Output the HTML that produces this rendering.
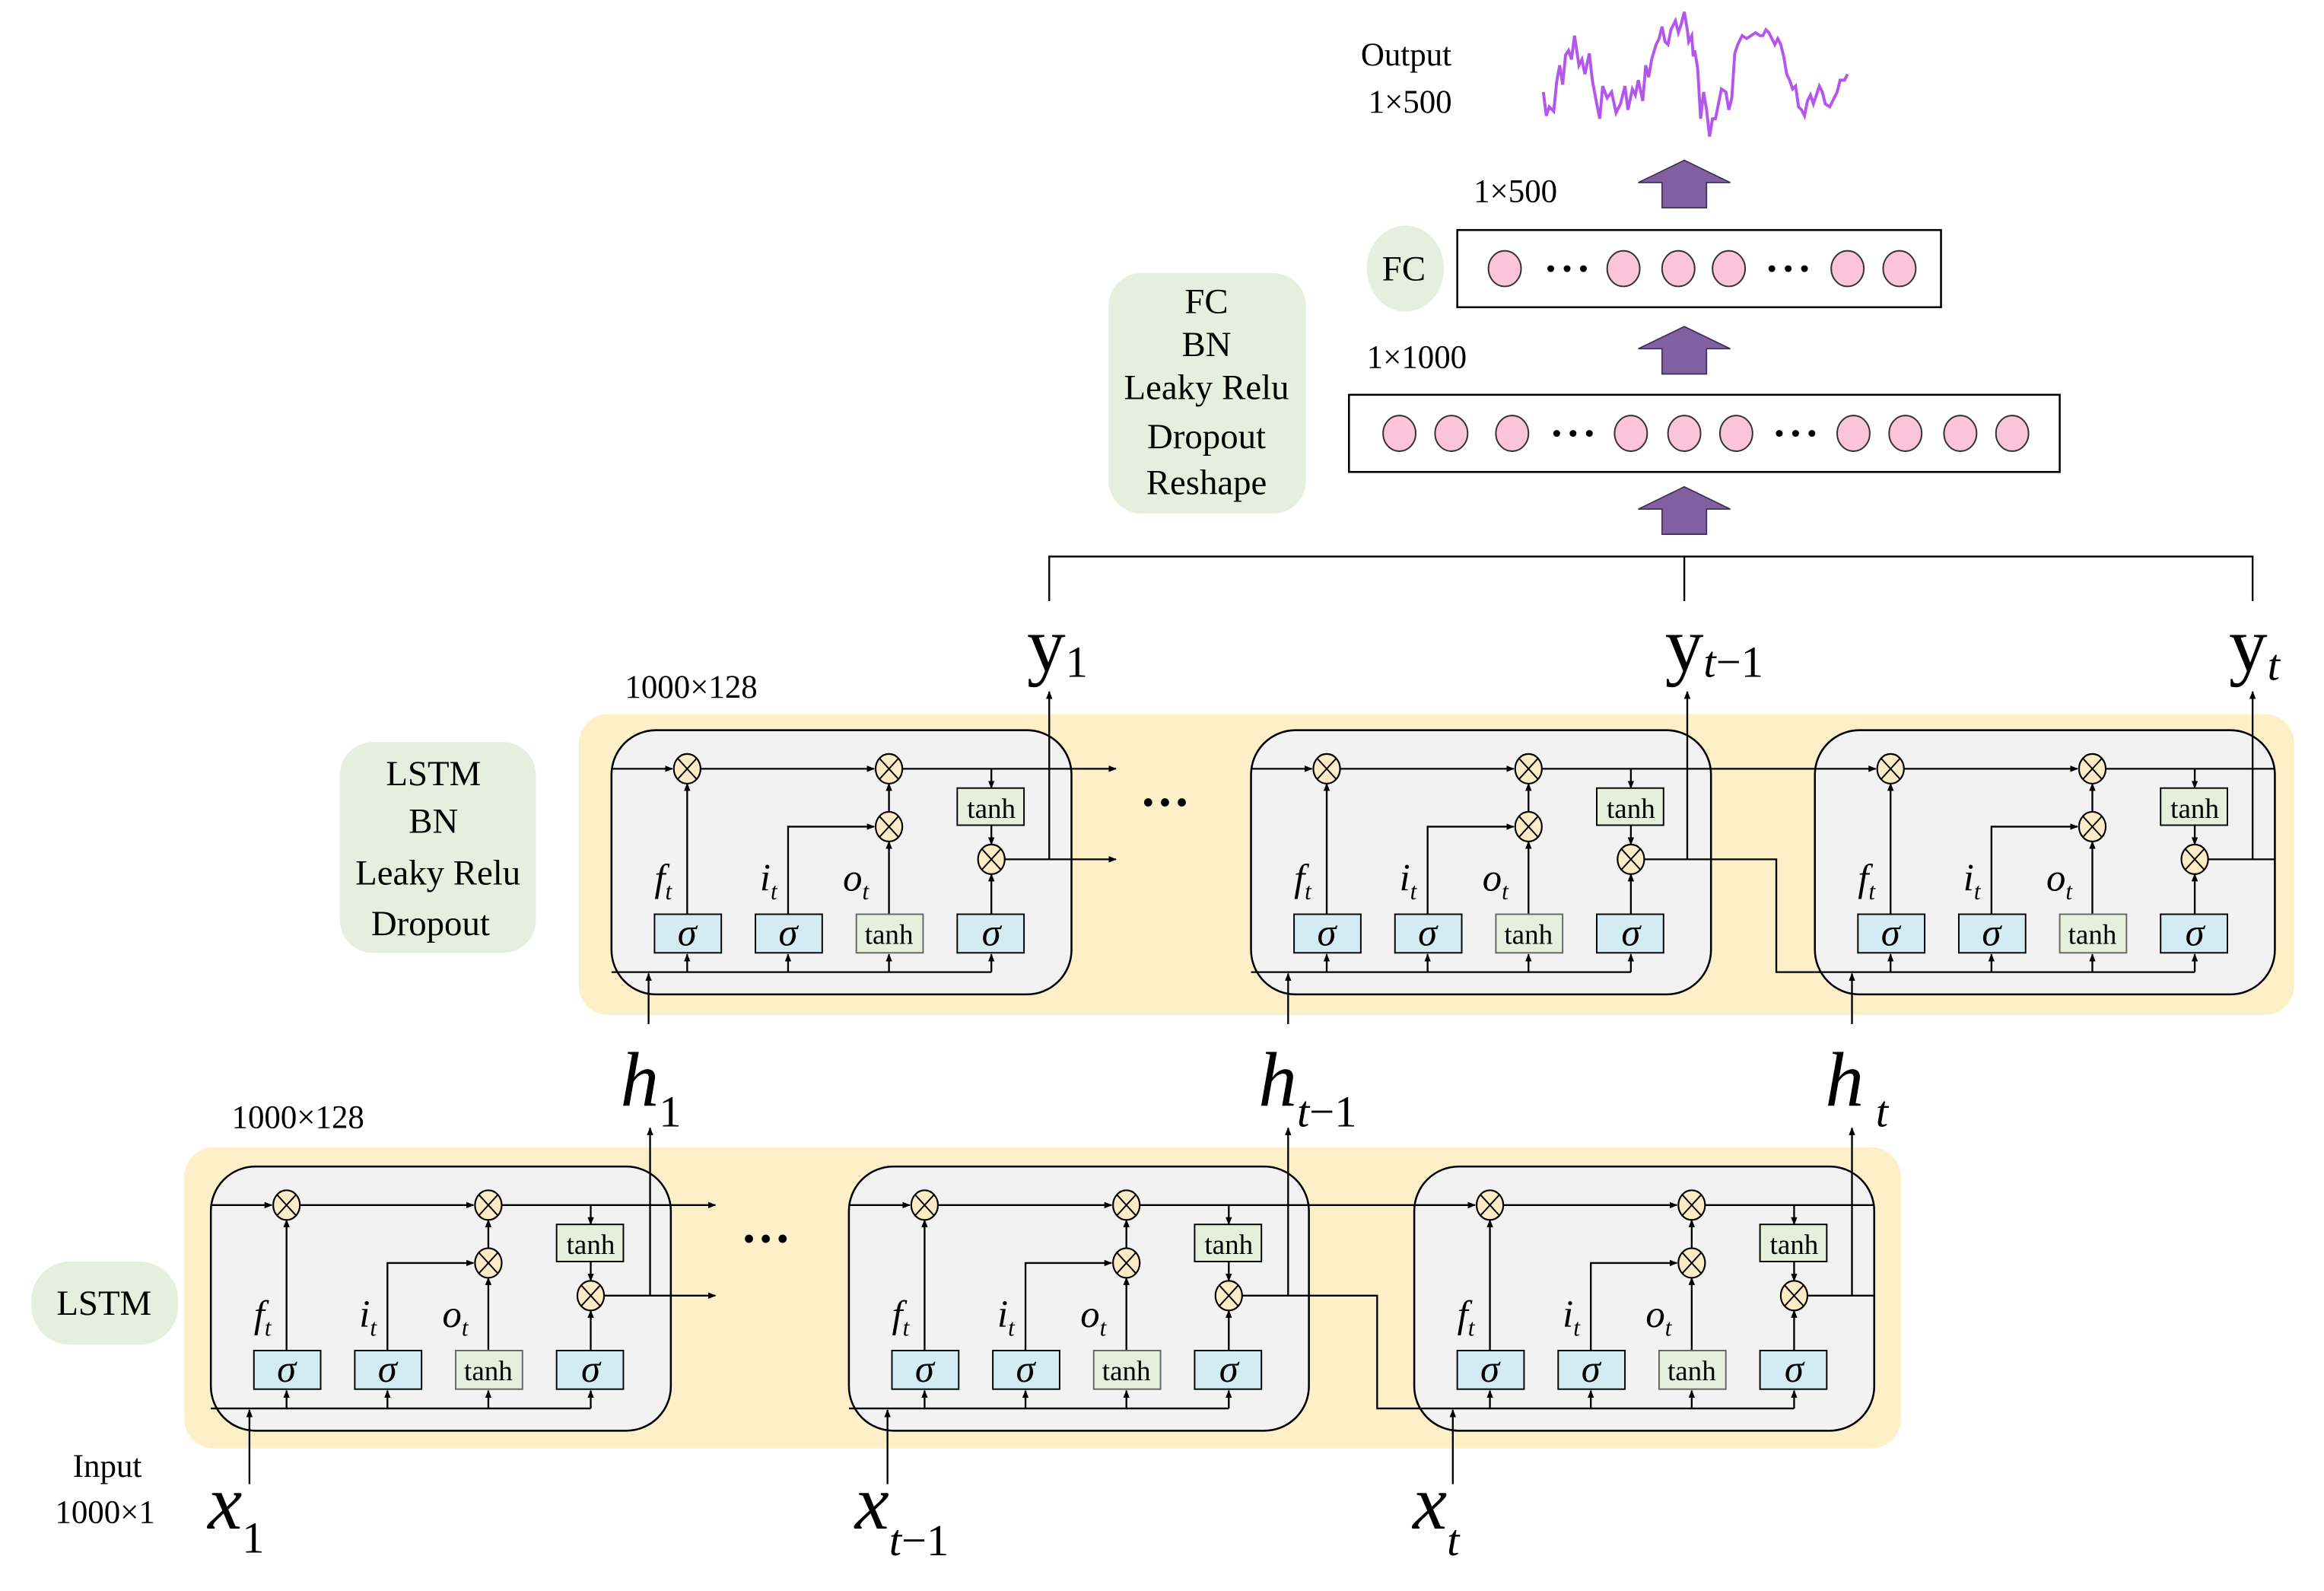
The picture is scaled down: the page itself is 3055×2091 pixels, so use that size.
<!DOCTYPE html>
<html><head><meta charset="utf-8"><style>
html,body{margin:0;padding:0;background:#fff}
svg{display:block}
text{font-family:"Liberation Serif",serif;fill:#000}
</style></head><body>
<svg width="3055" height="2091" viewBox="0 0 1566 1072" xmlns="http://www.w3.org/2000/svg">
<defs>
<marker id="a" viewBox="0 0 10 10" refX="9" refY="5" markerWidth="4.5" markerHeight="4.5" orient="auto"><path d="M0,1 L10,5 L0,9 z" fill="#000"/></marker>
<g id="cell">
<rect x="0" y="0" width="310" height="178" rx="30" fill="#f2f2f2" stroke="#000" stroke-width="1.3"/>
<g stroke="#000" stroke-width="1.2" fill="none">
<line x1="0" y1="26" x2="41" y2="26" marker-end="url(#a)"/>
<line x1="60" y1="26" x2="177" y2="26" marker-end="url(#a)"/>
<line x1="196" y1="26" x2="310" y2="26"/>
<line x1="256" y1="26" x2="256" y2="39" marker-end="url(#a)"/>
<line x1="256" y1="64" x2="256" y2="77" marker-end="url(#a)"/>
<line x1="51" y1="124" x2="51" y2="36" marker-end="url(#a)"/>
<polyline points="119,124 119,65 177,65" marker-end="url(#a)"/>
<line x1="187" y1="124" x2="187" y2="75" marker-end="url(#a)"/>
<line x1="187" y1="56" x2="187" y2="36" marker-end="url(#a)"/>
<line x1="256" y1="124" x2="256" y2="97" marker-end="url(#a)"/>
<line x1="265" y1="87" x2="310" y2="87"/>
<line x1="0" y1="163" x2="256" y2="163"/>
<line x1="51" y1="163" x2="51" y2="151" marker-end="url(#a)"/>
<line x1="119" y1="163" x2="119" y2="151" marker-end="url(#a)"/>
<line x1="187" y1="163" x2="187" y2="151" marker-end="url(#a)"/>
<line x1="256" y1="163" x2="256" y2="151" marker-end="url(#a)"/>
</g>
<rect x="233" y="39" width="45" height="25" fill="#e6efdc" stroke="#000"/>
<rect x="29" y="124" width="45" height="26" fill="#d3ecf4" stroke="#000"/>
<rect x="97" y="124" width="45" height="26" fill="#d3ecf4" stroke="#000"/>
<rect x="165" y="124" width="45" height="26" fill="#e6efdc" stroke="#666"/>
<rect x="233" y="124" width="45" height="26" fill="#d3ecf4" stroke="#000"/>
<g fill="#fcebc4" stroke="#000" stroke-width="1.1">
<ellipse cx="51" cy="26" rx="9" ry="10"/><ellipse cx="187" cy="26" rx="9" ry="10"/>
<ellipse cx="187" cy="65" rx="9" ry="10"/><ellipse cx="256" cy="87" rx="9" ry="10"/>
</g>
<g stroke="#000" stroke-width="1">
<path d="M44.6,19 L57.4,33 M57.4,19 L44.6,33"/><path d="M180.6,19 L193.4,33 M193.4,19 L180.6,33"/>
<path d="M180.6,58 L193.4,72 M193.4,58 L180.6,72"/><path d="M249.6,80 L262.4,94 M262.4,80 L249.6,94"/>
</g>
</g>
</defs>

<rect x="390" y="481" width="1156" height="203" rx="20" fill="#fdefc8"/>
<rect x="124" y="773" width="1157" height="203" rx="20" fill="#fdefc8"/>

<rect x="747" y="184" width="133" height="162" rx="22" fill="#e6efdd"/>
<ellipse cx="947" cy="181" rx="26" ry="29" fill="#e6efdd"/>
<rect x="229" y="500" width="132" height="142" rx="22" fill="#e6efdd"/>
<rect x="21" y="850" width="99" height="56" rx="26" fill="#e6efdd"/>
<g font-size="24" text-anchor="middle">
<text x="813" y="211">FC</text><text x="813" y="240">BN</text><text x="813" y="269">Leaky Relu</text><text x="813" y="302">Dropout</text><text x="813" y="333">Reshape</text>
<text x="946" y="189">FC</text>
<text x="292" y="529">LSTM</text><text x="292" y="561">BN</text><text x="295" y="596">Leaky Relu</text><text x="290" y="630">Dropout</text>
<text x="70" y="886">LSTM</text>
</g>

<use href="#cell" x="412" y="492"/><use href="#cell" x="843" y="492"/><use href="#cell" x="1223" y="492"/>
<use href="#cell" x="142" y="786"/><use href="#cell" x="572" y="786"/><use href="#cell" x="953" y="786"/>

<g stroke="#000" stroke-width="1.2" fill="none">
<line x1="722" y1="518" x2="752" y2="518" marker-end="url(#a)"/>
<line x1="722" y1="579" x2="752" y2="579" marker-end="url(#a)"/>
<line x1="707" y1="579" x2="707" y2="466" marker-end="url(#a)"/>
<line x1="1153" y1="518" x2="1223" y2="518"/>
<polyline points="1153,579 1197,579 1197,655 1223,655"/>
<line x1="1137" y1="579" x2="1137" y2="466" marker-end="url(#a)"/>
<line x1="1518" y1="579" x2="1518" y2="466" marker-end="url(#a)"/>
<line x1="437" y1="690" x2="437" y2="656" marker-end="url(#a)"/>
<line x1="868" y1="690" x2="868" y2="656" marker-end="url(#a)"/>
<line x1="1248" y1="690" x2="1248" y2="656" marker-end="url(#a)"/>
<line x1="452" y1="812" x2="482" y2="812" marker-end="url(#a)"/>
<line x1="452" y1="873" x2="482" y2="873" marker-end="url(#a)"/>
<line x1="438" y1="873" x2="438" y2="760" marker-end="url(#a)"/>
<line x1="882" y1="812" x2="953" y2="812"/>
<polyline points="882,873 928,873 928,949 953,949"/>
<line x1="868" y1="873" x2="868" y2="760" marker-end="url(#a)"/>
<line x1="1248" y1="873" x2="1248" y2="760" marker-end="url(#a)"/>
<line x1="168" y1="1000" x2="168" y2="950" marker-end="url(#a)"/>
<line x1="598" y1="1000" x2="598" y2="950" marker-end="url(#a)"/>
<line x1="979" y1="1000" x2="979" y2="950" marker-end="url(#a)"/>
<polyline points="707,405 707,375 1518,375 1518,405"/>
<line x1="1135" y1="375" x2="1135" y2="405"/>
</g>

<g font-size="26" font-style="italic">
<text x="441" y="600">f<tspan font-size="16" dy="6">t</tspan></text><text x="512" y="600">i<tspan font-size="16" dy="6">t</tspan></text><text x="568" y="600">o<tspan font-size="16" dy="6">t</tspan></text>
<text x="872" y="600">f<tspan font-size="16" dy="6">t</tspan></text><text x="943" y="600">i<tspan font-size="16" dy="6">t</tspan></text><text x="999" y="600">o<tspan font-size="16" dy="6">t</tspan></text>
<text x="1252" y="600">f<tspan font-size="16" dy="6">t</tspan></text><text x="1323" y="600">i<tspan font-size="16" dy="6">t</tspan></text><text x="1379" y="600">o<tspan font-size="16" dy="6">t</tspan></text>
<text x="171" y="894">f<tspan font-size="16" dy="6">t</tspan></text><text x="242" y="894">i<tspan font-size="16" dy="6">t</tspan></text><text x="298" y="894">o<tspan font-size="16" dy="6">t</tspan></text>
<text x="601" y="894">f<tspan font-size="16" dy="6">t</tspan></text><text x="672" y="894">i<tspan font-size="16" dy="6">t</tspan></text><text x="728" y="894">o<tspan font-size="16" dy="6">t</tspan></text>
<text x="982" y="894">f<tspan font-size="16" dy="6">t</tspan></text><text x="1053" y="894">i<tspan font-size="16" dy="6">t</tspan></text><text x="1109" y="894">o<tspan font-size="16" dy="6">t</tspan></text>
</g>
<g font-size="26" font-style="italic" text-anchor="middle">
<text x="463" y="637">σ</text><text x="531" y="637">σ</text><text x="668" y="637">σ</text>
<text x="894" y="637">σ</text><text x="962" y="637">σ</text><text x="1099" y="637">σ</text>
<text x="1274" y="637">σ</text><text x="1342" y="637">σ</text><text x="1479" y="637">σ</text>
<text x="193" y="931">σ</text><text x="261" y="931">σ</text><text x="398" y="931">σ</text>
<text x="623" y="931">σ</text><text x="691" y="931">σ</text><text x="828" y="931">σ</text>
<text x="1004" y="931">σ</text><text x="1072" y="931">σ</text><text x="1209" y="931">σ</text>
</g>
<g font-size="19" text-anchor="middle">
<text x="599" y="636">tanh</text><text x="668" y="551">tanh</text>
<text x="1030" y="636">tanh</text><text x="1099" y="551">tanh</text>
<text x="1410" y="636">tanh</text><text x="1479" y="551">tanh</text>
<text x="329" y="930">tanh</text><text x="398" y="845">tanh</text>
<text x="759" y="930">tanh</text><text x="828" y="845">tanh</text>
<text x="1140" y="930">tanh</text><text x="1209" y="845">tanh</text>
</g>
<g font-size="34" font-weight="bold" text-anchor="middle">
<text x="785" y="552">···</text><text x="516" y="846">···</text>
</g>

<g font-size="52">
<text x="692" y="452">y<tspan font-size="30" dy="4">1</tspan></text>
<text x="1122" y="452">y<tspan font-size="30" font-style="italic" dy="4">t</tspan><tspan font-size="30">−1</tspan></text>
<text x="1502" y="452">y<tspan font-size="30" font-style="italic" dy="6">t</tspan></text>
<text x="418" y="745" font-style="italic">h<tspan font-size="30" font-style="normal" dy="14">1</tspan></text>
<text x="848" y="745" font-style="italic">h<tspan font-size="30" dy="14">t</tspan><tspan font-size="30" font-style="normal">−1</tspan></text>
<text x="1230" y="745" font-style="italic">h<tspan font-size="30" dx="8" dy="14">t</tspan></text>
<text x="140" y="1030" font-style="italic">x<tspan font-size="30" font-style="normal" dy="16">1</tspan></text>
<text x="576" y="1030" font-style="italic">x<tspan font-size="30" dy="18">t</tspan><tspan font-size="30" font-style="normal">−1</tspan></text>
<text x="952" y="1030" font-style="italic">x<tspan font-size="30" dy="18">t</tspan></text>
</g>
<g font-size="22">
<text x="421" y="470">1000×128</text><text x="156" y="760">1000×128</text>
<text x="49" y="995">Input</text><text x="37" y="1026">1000×1</text>
<text x="921" y="248">1×1000</text><text x="993" y="136">1×500</text>
<text x="917" y="44">Output</text><text x="922" y="76">1×500</text>
</g>

<rect x="909" y="266" width="479" height="52" fill="#fff" stroke="#000" stroke-width="1.3"/>
<rect x="982" y="155" width="326" height="52" fill="#fff" stroke="#000" stroke-width="1.3"/>
<g fill="#fbc4d8" stroke="#333" stroke-width="1">
<ellipse cx="943" cy="292" rx="11" ry="12"/><ellipse cx="978" cy="292" rx="11" ry="12"/><ellipse cx="1019" cy="292" rx="11" ry="12"/>
<ellipse cx="1099" cy="292" rx="11" ry="12"/><ellipse cx="1135" cy="292" rx="11" ry="12"/><ellipse cx="1170" cy="292" rx="11" ry="12"/>
<ellipse cx="1249" cy="292" rx="11" ry="12"/><ellipse cx="1284" cy="292" rx="11" ry="12"/><ellipse cx="1321" cy="292" rx="11" ry="12"/><ellipse cx="1356" cy="292" rx="11" ry="12"/>
<ellipse cx="1014" cy="181" rx="11" ry="12"/><ellipse cx="1094" cy="181" rx="11" ry="12"/><ellipse cx="1131" cy="181" rx="11" ry="12"/>
<ellipse cx="1165" cy="181" rx="11" ry="12"/><ellipse cx="1245" cy="181" rx="11" ry="12"/><ellipse cx="1280" cy="181" rx="11" ry="12"/>
</g>
<g fill="#000">
<circle cx="1049" cy="292" r="2.3"/><circle cx="1060" cy="292" r="2.3"/><circle cx="1071" cy="292" r="2.3"/>
<circle cx="1199" cy="292" r="2.3"/><circle cx="1210" cy="292" r="2.3"/><circle cx="1221" cy="292" r="2.3"/>
<circle cx="1045" cy="181" r="2.3"/><circle cx="1056" cy="181" r="2.3"/><circle cx="1067" cy="181" r="2.3"/>
<circle cx="1194" cy="181" r="2.3"/><circle cx="1205" cy="181" r="2.3"/><circle cx="1216" cy="181" r="2.3"/>
</g>
<g fill="#8060a0" stroke="#3a2a50" stroke-width="0.8">
<path d="M1104,343 L1135,328 L1166,343 L1150,343 L1150,360 L1120,360 L1120,343 z"/>
<path d="M1104,235 L1135,220 L1166,235 L1150,235 L1150,252 L1120,252 L1120,235 z"/>
<path d="M1104,123 L1135,108 L1166,123 L1150,123 L1150,140 L1120,140 L1120,123 z"/>
</g>
<polyline fill="none" stroke="#b455ee" stroke-width="2" points="1040,62 1042,78 1044,72 1047,75 1049,55 1051,44 1053,57 1055,37 1057,34 1059,40 1061,24 1064,44 1066,40 1068,50 1071,36 1073,54 1076,70 1078,80 1080,58 1083,66 1086,62 1089,76 1092,70 1095,58 1097,74 1100,60 1102,64 1104,54 1107,68 1109,44 1111,52 1113,40 1116,30 1118,26 1120,18 1122,28 1124,30 1126,20 1129,14 1131,22 1133,16 1135,8 1137,20 1138,28 1140,24 1141,38 1142,34 1144,46 1146,80 1148,62 1150,74 1152,92 1154,80 1156,80 1158,70 1160,60 1163,62 1165,74 1167,66 1169,36 1171,30 1174,24 1177,26 1180,24 1183,22 1186,24 1188,24 1190,20 1192,22 1194,26 1196,30 1198,26 1200,30 1202,38 1204,50 1206,54 1208,60 1210,58 1212,72 1214,74 1216,78 1218,68 1220,64 1222,70 1224,64 1226,58 1228,62 1230,70 1233,72 1236,66 1238,62 1240,54 1243,54 1245,50"/>
</svg>
</body></html>
